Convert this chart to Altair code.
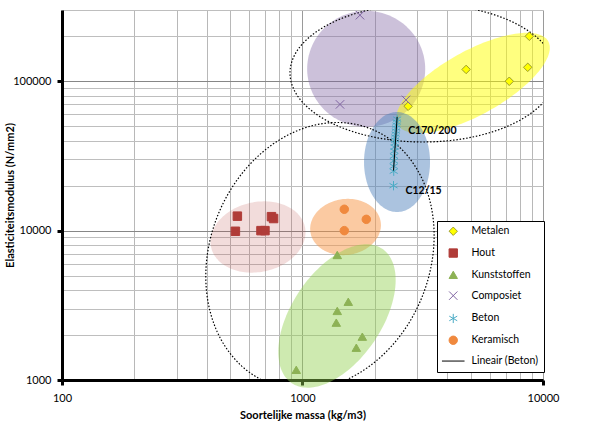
import altair as alt
import numpy as np
import pandas as pd

# ---------------- data ----------------
series_names = ["Metalen", "Hout", "Kunststoffen", "Composiet", "Beton", "Keramisch", "Lineair (Beton)"]

metalen_rho = [8770, 4790, 8640, 7240, 2750]
metalen_E = [200000, 120000, 124000, 100000, 68000]

hout_rho = [536, 526, 743, 758, 672, 698]
hout_E = [12500, 9900, 12400, 12050, 10000, 10000]

kunst_rho = [1395, 1550, 1395, 1382, 1773, 1674, 942]
kunst_E = [6870, 3340, 2900, 2420, 1950, 1645, 1170]

comp_rho = [1734, 1432, 2693]
comp_E = [277000, 70000, 75000]

beton_rho = [2390, 2395, 2395, 2400, 2400, 2410, 2415, 2420, 2425, 2430, 2440, 2445, 2450, 2460, 2465, 2475]
beton_E = [20000, 25000, 27000, 29300, 31600, 34100, 36300, 38600, 40400, 42300, 44300, 46400, 48600, 50900, 53300, 55800]

keram_rho = [1492, 1842, 1492]
keram_E = [13900, 11900, 10000]

label_text = ["C170/200", "C12/15"]
label_rho = [2475, 2390]
label_E = [55800, 20000]

x_ticks = [100, 200, 300, 400, 500, 600, 700, 800, 900,
           1000, 2000, 3000, 4000, 5000, 6000, 7000, 8000, 9000, 10000]
y_ticks = [1000, 2000, 3000, 4000, 5000, 6000, 7000, 8000, 9000,
           10000, 20000, 30000, 40000, 50000, 60000, 70000, 80000, 90000,
           100000, 200000, 300000]

# shaded group ellipses: centre (data units), semi-axes (px), rotation (deg)
ell_name = ["Composiet", "Metalen", "Beton", "Keramisch", "Hout", "Kunststoffen"]
ell_cx = [1840, 5117, 2472, 1510, 653, 1391]
ell_cy = [121000, 97300, 28800, 10576, 9066, 2683]
ell_a = [59, 86, 33, 35.5, 48, 81]
ell_b = [58, 32, 50, 28, 35, 45]
ell_ang = [0, 29, 0, 8, 12, 56]
ell_fill = ["#8064A2", "#FFFF00", "#4F81BD", "#F79646", "#C0504D", "#92D050"]
ell_op = [0.4, 0.5, 0.48, 0.5, 0.2, 0.45]

# dotted outline ellipses
dot_name = ["boven", "onder"]
dot_cx = [3170, 1182]
dot_cy = [113600, 6761]
dot_a = [133, 137]
dot_b = [69, 110]
dot_ang = [0, 68]

# ---------------- layout ----------------
W, H = 481, 370
XMIN, XMAX = 100, 10000
YMIN, YMAX = 1000, 300000
PXX = W / np.log10(XMAX / XMIN)
PXY = H / np.log10(YMAX / YMIN)
FONT = "Lato"


def ellipse_rows(name, cx, cy, a, b, ang, n=160):
    t = np.linspace(0, 2 * np.pi, n + 1)
    th = np.radians(ang)
    u, v = a * np.cos(t), b * np.sin(t)
    dx = u * np.cos(th) - v * np.sin(th)
    dy = u * np.sin(th) + v * np.cos(th)
    xs = 10 ** (np.log10(cx) + dx / PXX)
    ys = 10 ** (np.log10(cy) + dy / PXY)
    return [{"name": name, "i": i, "rho": float(x), "E": float(y)} for i, (x, y) in enumerate(zip(xs, ys))]


ell_rows = []
for k in range(len(ell_name)):
    rows = ellipse_rows(ell_name[k], ell_cx[k], ell_cy[k], ell_a[k], ell_b[k], ell_ang[k])
    for r in rows:
        r["col"] = ell_fill[k]
        r["op"] = ell_op[k]
    ell_rows += rows
ell_df = pd.DataFrame(ell_rows)

dot_rows = []
for k in range(len(dot_name)):
    dot_rows += ellipse_rows(dot_name[k], dot_cx[k], dot_cy[k], dot_a[k], dot_b[k], dot_ang[k], n=240)
dot_df = pd.DataFrame(dot_rows)

pts = []
for name, xs, ys in [("Metalen", metalen_rho, metalen_E), ("Hout", hout_rho, hout_E),
                     ("Kunststoffen", kunst_rho, kunst_E), ("Composiet", comp_rho, comp_E),
                     ("Beton", beton_rho, beton_E), ("Keramisch", keram_rho, keram_E)]:
    pts += [{"series": name, "rho": x, "E": y} for x, y in zip(xs, ys)]
pts_df = pd.DataFrame(pts)

lab_df = pd.DataFrame({"text": label_text, "rho": label_rho, "E": label_E})

xscale = alt.Scale(type="log", domain=[XMIN, XMAX], nice=False)
yscale = alt.Scale(type="log", domain=[YMIN, YMAX], nice=False)

x_major = "datum.value == 100 || datum.value == 1000 || datum.value == 10000"
y_major = "datum.value == 1000 || datum.value == 10000 || datum.value == 100000"

x_axis = alt.Axis(
    values=x_ticks, format="d", title="Soortelijke massa (kg/m3)",
    labelExpr=f"({x_major}) ? datum.label : ''",
    gridColor={"condition": {"test": x_major, "value": "#9a9a9a"}, "value": "#b8b8b8"},
    tickColor={"condition": {"test": x_major, "value": "#000000"}, "value": "transparent"},
    labelPadding=7, titlePadding=6,
)
y_axis = alt.Axis(
    values=y_ticks, format="d", title="Elasticiteitsmodulus (N/mm2)",
    labelExpr=f"({y_major}) ? datum.label : ''",
    gridColor={"condition": {"test": y_major, "value": "#878787"}, "value": "#bebebe"},
    tickColor={"condition": {"test": y_major, "value": "#000000"}, "value": "transparent"},
    labelPadding=6, titleX=-49, titleY=H / 2, titleBaseline="alphabetic", titleAngle=-90,
)

X = alt.X("rho:Q", scale=xscale, axis=x_axis)
Y = alt.Y("E:Q", scale=yscale, axis=y_axis)

x_path = "M-1,-1L1,1M-1,1L1,-1"
ast_path = "M0,-1.1L0,1.1M-0.95,-0.55L0.95,0.55M-0.95,0.55L0.95,-0.55"
line_path = "M-2.7,0L2.7,0"

shape_range = ["diamond", "square", "triangle-up", x_path, ast_path, "circle", line_path]
fill_range = ["#FFFF00", "#B03C38", "#8DB255", "transparent", "transparent", "#F0893E", "transparent"]
stroke_range = ["#9C9C2A", "#B03C38", "#8DB255", "#8064A2", "#4BACC6", "#F0893E", "#000000"]

legend = alt.Legend(
    title=None, orient="none", legendX=375, legendY=211,
    strokeColor="#000000", fillColor="#ffffff", padding=5,
    rowPadding=8.8, symbolSize=70, symbolStrokeWidth=1, symbolOffset=6,
    labelOffset=13, labelFont=FONT, labelFontSize=10.5, labelColor="#000000",
)

filled = alt.Chart(ell_df).mark_line(filled=True, strokeWidth=0).encode(
    x=X, y=Y,
    fill=alt.Fill("col:N", scale=None),
    fillOpacity=alt.FillOpacity("op:Q", scale=None),
    detail="name:N",
    order="i:Q",
)

dotted = alt.Chart(dot_df).mark_line(
    color="#000000", strokeWidth=1.2, strokeDash=[1.5, 1.8], clip=True
).encode(x=X, y=Y, detail="name:N", order="i:Q")

points = alt.Chart(pts_df).mark_point(size=72, strokeWidth=1, opacity=1).encode(
    x=X, y=Y,
    shape=alt.Shape("series:N", scale=alt.Scale(domain=series_names, range=shape_range), legend=legend),
    fill=alt.Fill("series:N", scale=alt.Scale(domain=series_names, range=fill_range), legend=legend),
    stroke=alt.Stroke("series:N", scale=alt.Scale(domain=series_names, range=stroke_range), legend=legend),
)

trend = alt.Chart(pts_df).transform_filter(
    alt.datum.series == "Beton"
).transform_regression("rho", "E", method="linear").mark_line(
    color="#000000", strokeWidth=1
).encode(x=X, y=Y)

lab_top = alt.Chart(lab_df.iloc[[0]]).mark_text(
    align="left", baseline="middle", dx=11, dy=12, font=FONT, fontSize=10.5, fontWeight="bold", color="#000000"
).encode(x=X, y=Y, text="text:N")

lab_bot = alt.Chart(lab_df.iloc[[1]]).mark_text(
    align="left", baseline="middle", dx=12, dy=5, font=FONT, fontSize=10.5, fontWeight="bold", color="#000000"
).encode(x=X, y=Y, text="text:N")

chart = alt.layer(filled, dotted, points, trend, lab_top, lab_bot).properties(
    width=W, height=H,
    autosize=alt.AutoSizeParams(type="none"),
    padding={"left": 62, "top": 10, "right": 59, "bottom": 45},
    background="#ffffff",
).configure_view(stroke=None).configure_axis(
    domainColor="#000000", domainWidth=3, tickSize=5, tickWidth=3,
    gridWidth=1, labelFont=FONT, labelFontSize=11, labelColor="#000000",
    titleFont=FONT, titleFontSize=11, titleFontWeight="bold", titleColor="#000000",
    labelOverlap=False, labelFlush=False,
)

chart.save("out.html", embed_options={"renderer": "svg", "actions": False})
